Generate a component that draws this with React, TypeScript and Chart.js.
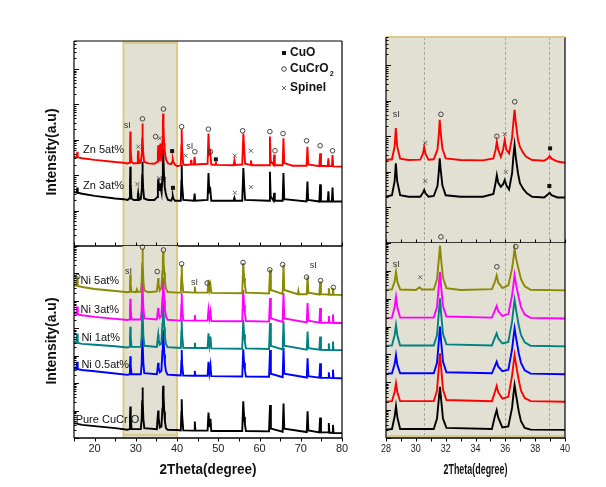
import React, { useEffect, useRef } from 'react';
import { Chart, registerables } from 'chart.js';
Chart.register(...registerables);

type Pt = [number, number];

// ---------- Series data: [2theta, intensity (a.u.)] ----------
const zn5: Pt[] = [[15, 330], [15.7, 320], [15.8, 460], [15.9, 320], [17, 300], [20, 270], [25, 235], [27, 225], [28.0, 215], [28.4, 225], [28.58, 520], [28.66, 1700], [28.75, 520], [28.95, 235], [29.5, 215], [30.3, 220], [30.48, 330], [30.56, 500], [30.65, 320], [30.85, 220], [31.2, 225], [31.45, 420], [31.54, 1100], [31.6, 2900], [31.67, 1200], [31.78, 450], [32.0, 240], [33, 215], [34.5, 210], [35.2, 240], [35.35, 420], [35.43, 700], [35.52, 420], [35.7, 265], [35.85, 420], [35.96, 780], [36.07, 420], [36.25, 330], [36.45, 900], [36.55, 2800], [36.62, 5500], [36.7, 2400], [36.85, 800], [36.98, 500], [37.2, 340], [37.4, 265], [37.8, 215], [38.6, 205], [38.85, 240], [38.97, 277], [39.1, 235], [39.5, 195], [40.0, 180], [40.9, 190], [41.05, 700], [41.12, 2000], [41.2, 600], [41.5, 200], [42, 195], [43.3, 200], [43.4, 270], [43.5, 200], [44.1, 200], [44.25, 330], [44.4, 200], [47.4, 210], [47.62, 1500], [47.8, 400], [48.05, 460], [48.3, 200], [49.3, 195], [49.4, 240], [49.5, 195], [53.7, 190], [53.9, 260], [54.1, 195], [55.8, 200], [56.08, 1500], [56.3, 500], [56.5, 210], [57.7, 195], [57.9, 260], [58.1, 190], [62.3, 190], [62.52, 1230], [62.7, 250], [63.4, 195], [63.55, 380], [63.7, 190], [65.6, 190], [65.8, 1100], [66.0, 220], [68, 185], [71.4, 185], [71.62, 630], [71.8, 200], [74.5, 180], [74.7, 415], [74.9, 185], [76.55, 180], [76.7, 300], [76.85, 180], [77.55, 180], [77.7, 370], [77.85, 178], [80, 175]];

const zn3: Pt[] = [[15, 34], [15.7, 32], [15.8, 45], [15.9, 32], [17, 30], [20, 26], [25, 22], [27, 21], [28.0, 20], [28.4, 22], [28.58, 55], [28.66, 174], [28.75, 55], [28.95, 22], [29.5, 20], [30.3, 20], [30.48, 26], [30.56, 31], [30.65, 25], [30.85, 20], [31.2, 21], [31.45, 40], [31.54, 100], [31.6, 240], [31.67, 110], [31.78, 42], [32.0, 22], [33, 20], [34.5, 20], [35.2, 24], [35.35, 50], [35.43, 81], [35.52, 50], [35.7, 38], [35.85, 45], [35.96, 59], [36.07, 42], [36.25, 32], [36.45, 90], [36.55, 300], [36.62, 565], [36.7, 260], [36.85, 90], [36.98, 48], [37.2, 33], [37.45, 25], [37.8, 20], [38.6, 19], [38.85, 23], [38.97, 26], [39.1, 22], [39.5, 19], [40, 19], [40.9, 19], [41.05, 70], [41.12, 195], [41.2, 60], [41.5, 20], [44.1, 19], [44.25, 30], [44.4, 19], [47.4, 20], [47.62, 115], [47.8, 35], [48.05, 40], [48.3, 19], [53.7, 19], [53.9, 23], [54.1, 19], [55.8, 19], [56.08, 160], [56.3, 45], [56.5, 20], [62.3, 19], [62.52, 125], [62.7, 25], [63.4, 19], [63.55, 32], [63.7, 19], [65.6, 19], [65.8, 115], [66.0, 21], [71.4, 18], [71.62, 66], [71.8, 20], [74.5, 18], [74.7, 55], [74.9, 18], [76.55, 18], [76.7, 35], [76.85, 18], [77.55, 18], [77.7, 45], [77.85, 18], [80, 18]];

const ni5: Pt[] = [[15, 380000], [15.6, 360000], [15.75, 780000], [15.9, 350000], [17, 320000], [20, 270000], [25, 230000], [28, 205000], [28.4, 215000], [28.58, 420000], [28.67, 930000], [28.76, 400000], [28.95, 215000], [30.0, 205000], [30.25, 260000], [30.4, 215000], [31.2, 215000], [31.42, 500000], [31.53, 2200000], [31.62, 8000000], [31.7, 2400000], [31.82, 560000], [32.05, 240000], [33, 205000], [35.1, 220000], [35.3, 400000], [35.42, 680000], [35.52, 390000], [35.8, 240000], [36.2, 300000], [36.45, 1200000], [36.55, 3000000], [36.62, 6200000], [36.72, 2800000], [36.9, 1070000], [37.05, 500000], [37.3, 280000], [37.7, 210000], [40, 200000], [40.9, 200000], [41.05, 800000], [41.12, 2050000], [41.22, 600000], [41.5, 210000], [44.15, 200000], [44.3, 330000], [44.45, 200000], [47.4, 200000], [47.62, 590000], [47.85, 250000], [48.1, 380000], [48.3, 195000], [55.8, 190000], [56.05, 2400000], [56.25, 700000], [56.45, 400000], [56.7, 200000], [62.3, 185000], [62.55, 1350000], [62.75, 250000], [65.6, 180000], [65.82, 2050000], [66.0, 250000], [69.3, 175000], [69.4, 220000], [69.5, 175000], [71.45, 175000], [71.65, 775000], [71.85, 200000], [74.5, 170000], [74.7, 510000], [74.9, 175000], [76.65, 170000], [76.8, 290000], [76.95, 168000], [77.65, 168000], [77.8, 300000], [77.95, 166000], [80, 165000]];

const ni3: Pt[] = [[15, 35500], [15.6, 33000], [15.75, 62000], [15.9, 32000], [17, 30000], [20, 26000], [25, 22000], [28, 20000], [28.4, 21000], [28.58, 50000], [28.67, 118000], [28.76, 48000], [28.95, 21000], [31.2, 21000], [31.42, 50000], [31.53, 250000], [31.62, 930000], [31.7, 260000], [31.82, 55000], [32.05, 23000], [35.1, 21000], [35.3, 38000], [35.42, 55000], [35.52, 36000], [35.8, 24000], [36.2, 28000], [36.45, 130000], [36.55, 350000], [36.62, 710000], [36.72, 320000], [36.9, 110000], [37.05, 50000], [37.3, 27000], [37.7, 20500], [40, 19500], [40.9, 19000], [41.05, 75000], [41.12, 190000], [41.22, 60000], [41.5, 19500], [44.15, 19000], [44.3, 30000], [44.45, 19000], [47.4, 19000], [47.62, 47000], [47.85, 24000], [48.1, 40000], [48.3, 18500], [55.8, 18000], [56.05, 250000], [56.25, 70000], [56.45, 35000], [56.7, 18500], [62.3, 17500], [62.55, 126000], [62.75, 23000], [65.6, 17000], [65.82, 190000], [66.0, 23000], [71.45, 16500], [71.65, 83000], [71.85, 19000], [74.5, 16000], [74.7, 55000], [74.9, 16000], [76.65, 16000], [76.8, 28000], [76.95, 15800], [77.65, 15800], [77.8, 32000], [77.95, 15600], [80, 15500]];

const ni1: Pt[] = [[15, 3200], [15.6, 3000], [15.75, 6300], [15.9, 2900], [17, 2700], [20, 2500], [25, 2200], [28, 2000], [28.4, 2100], [28.58, 5000], [28.67, 11400], [28.76, 4800], [28.95, 2100], [31.2, 2100], [31.42, 5000], [31.53, 27000], [31.62, 103000], [31.7, 28000], [31.82, 5500], [32.05, 2300], [35.1, 2100], [35.3, 4000], [35.42, 5700], [35.52, 3800], [35.8, 2500], [36.2, 2800], [36.45, 15000], [36.55, 45000], [36.62, 90000], [36.72, 40000], [36.9, 11000], [37.05, 5000], [37.3, 2700], [37.7, 2050], [40, 1950], [40.9, 1900], [41.05, 8000], [41.12, 20000], [41.22, 6000], [41.5, 1950], [44.15, 1900], [44.3, 3000], [44.45, 1900], [47.4, 1900], [47.62, 6600], [47.85, 2500], [48.1, 5000], [48.3, 1850], [55.8, 1800], [56.05, 20000], [56.25, 6000], [56.45, 3200], [56.7, 1850], [62.3, 1750], [62.55, 15500], [62.75, 2300], [65.6, 1700], [65.82, 17500], [66.0, 2300], [71.45, 1650], [71.65, 7600], [71.85, 1900], [74.5, 1650], [74.7, 5000], [74.9, 1650], [76.65, 1620], [76.8, 2800], [76.95, 1600], [77.65, 1600], [77.8, 3300], [77.95, 1600], [80, 1600]];

const ni05: Pt[] = [[15, 350], [15.6, 330], [15.75, 600], [15.9, 320], [17, 300], [20, 270], [25, 225], [28, 200], [28.4, 210], [28.58, 450], [28.67, 950], [28.76, 420], [28.95, 210], [31.2, 210], [31.42, 500], [31.53, 2600], [31.62, 10000], [31.7, 2800], [31.82, 550], [32.05, 230], [35.1, 210], [35.3, 380], [35.42, 550], [35.52, 370], [35.8, 250], [36.2, 280], [36.45, 1500], [36.55, 4400], [36.62, 8700], [36.72, 3900], [36.9, 1100], [37.05, 500], [37.3, 270], [37.7, 205], [40, 195], [40.9, 190], [41.05, 650], [41.12, 1600], [41.22, 500], [41.5, 190], [44.15, 185], [44.3, 280], [44.45, 185], [47.4, 185], [47.62, 600], [47.85, 240], [48.1, 450], [48.3, 180], [55.8, 175], [56.05, 1700], [56.25, 550], [56.45, 300], [56.7, 175], [62.3, 170], [62.55, 1600], [62.75, 220], [65.6, 165], [65.82, 1900], [66.0, 220], [71.45, 160], [71.65, 810], [71.85, 180], [74.5, 158], [74.7, 530], [74.9, 158], [76.65, 155], [76.8, 250], [76.95, 155], [77.65, 153], [77.8, 310], [77.95, 152], [80, 150]];

const redRef: Pt[] = [[27.5, 21], [28, 20], [28.4, 21], [28.58, 45], [28.67, 92], [28.76, 44], [28.95, 21], [31.2, 21], [31.42, 50], [31.53, 300], [31.62, 1100], [31.7, 320], [31.82, 55], [32.05, 23], [35.1, 21], [35.3, 45], [35.42, 74], [35.52, 44], [35.8, 26], [36.2, 30], [36.45, 170], [36.55, 480], [36.62, 950], [36.72, 430], [36.9, 120], [37.05, 50], [37.3, 27], [37.7, 21], [40, 20], [40.5, 20]];

const pure: Pt[] = [[15, 3.5], [17, 3.0], [20, 2.7], [25, 2.3], [28, 2.0], [28.4, 2.1], [28.58, 6], [28.67, 14], [28.76, 5.5], [28.95, 2.1], [31.2, 2.1], [31.42, 5], [31.53, 22], [31.62, 69], [31.7, 23], [31.82, 5], [32.05, 2.3], [35.1, 2.1], [35.3, 6], [35.42, 10], [35.52, 5.5], [35.8, 2.4], [36.2, 2.6], [36.45, 12], [36.55, 40], [36.62, 80], [36.72, 35], [36.9, 9], [37.05, 4], [37.3, 2.3], [37.7, 2.0], [40, 1.95], [40.9, 1.9], [41.05, 9], [41.12, 26], [41.22, 7], [41.5, 1.9], [44.15, 1.85], [44.3, 4], [44.45, 1.85], [47.4, 1.85], [47.62, 8.4], [47.85, 2.5], [48.1, 5], [48.3, 1.8], [55.8, 1.8], [56.05, 22], [56.25, 6], [56.45, 3.2], [56.7, 1.8], [62.3, 1.75], [62.55, 16], [62.75, 2.2], [65.6, 1.7], [65.82, 18], [66.0, 2.2], [71.45, 1.65], [71.65, 9.5], [71.85, 1.9], [74.5, 1.6], [74.7, 5.6], [74.9, 1.6], [76.65, 1.6], [76.8, 3.5], [76.95, 1.55], [77.65, 1.55], [77.8, 3], [77.95, 1.5], [80, 1.5]];

// ---------- Phase markers [2theta, intensity] ----------
const ltCuO: Pt[] = [[38.8, 480], [49.4, 280], [39.0, 44]];
const ltCuCrO2: Pt[] = [[31.6, 3900], [34.8, 1230], [36.7, 7400], [41.1, 2350], [44.3, 460], [47.6, 2000], [48.1, 460], [55.9, 1800], [62.5, 1700], [63.75, 490], [65.7, 1500], [71.4, 940], [74.7, 680], [77.7, 490]];
const ltSpinel: Pt[] = [[30.6, 640], [35.8, 1100], [42.1, 355], [54.0, 355], [57.9, 490], [30.4, 56], [35.7, 82], [54.0, 32], [57.9, 46]];
const ltSi: Pt[] = [[27.9, 2600], [43.1, 640]];

const lbCuCrO2: Pt[] = [[15.9, 770000], [31.6, 9100000], [35.2, 1170000], [36.7, 7200000], [41.1, 2240000], [47.3, 445000], [56.0, 2500000], [62.5, 1350000], [65.6, 2100000], [71.4, 730000], [74.8, 550000], [77.9, 310000]];
const lbSi: Pt[] = [[28.2, 1170000], [44.2, 480000], [73.0, 1900000]];

const rtCuO: Pt[] = [[39.0, 457], [38.95, 40]];
const rtCuCrO2: Pt[] = [[31.68, 4150], [35.43, 1000], [36.63, 9300]];
const rtSpinel: Pt[] = [[30.63, 655], [35.96, 1150], [30.63, 55], [36.03, 100]];
const rtSi: Pt[] = [[28.69, 4150]];

const rbCuCrO2: Pt[] = [[31.68, 16600000], [35.43, 1400000], [36.7, 7400000]];
const rbSpinel: Pt[] = [[30.3, 590000]];
const rbSi: Pt[] = [[28.69, 1700000]];

// reference lines in the zoomed panels (2theta)
const guideLines = [30.55, 35.95, 38.95];

// sample labels: [text, 2theta, intensity]
const topLabels: [string, number, number][] = [['Zn 5at%', 17.2, 515], ['Zn 3at%', 17.2, 49]];
const bottomLabels: [string, number, number][] = [['Ni 5at%', 16.6, 550000], ['Ni 3at%', 16.6, 47000], ['Ni 1at%', 16.8, 4600], ['Ni 0.5at%', 16.8, 460], ['Pure CuCr O', 15.4, 4.5]];

const wideTicks = [20, 30, 40, 50, 60, 70, 80];
const zoomTicks = [28, 30, 32, 34, 36, 38, 40];

// ---------- layout ----------
const W = 606, H = 487;
const FONT = "'Liberation Sans', Arial, sans-serif";
const BEIGE = '#e2dfd3';
const TAN = '#dccb86';

interface Panel {
  key: string;
  box: { l: number; r: number; t: number; b: number };
  xMin: number; xMax: number; yMax: number;
  xStep: number; tickDir: number; labels: number[];
  series: { data: Pt[]; color: string }[];
  shade?: [number, number];
  bg?: boolean;
  guides?: number[];
  cuo?: Pt[]; cucro2?: Pt[]; spinel?: Pt[]; si?: Pt[];
  sampleLabels?: [string, number, number][];
  legend?: boolean;
  yTitle?: number; xTitle?: number; tickMaxW?: number;
  top?: 'black' | 'tan'; bottomTan?: boolean;
}

const PANELS: Panel[] = [
  {
    key: 'lt', box: { l: 74, r: 342, t: 41, b: 246 }, xMin: 15, xMax: 80, yMax: 6.17e5,
    xStep: 5, tickDir: -1, labels: [],
    series: [{ data: zn5, color: '#ff0000' }, { data: zn3, color: '#000000' }],
    shade: [27, 40], cuo: ltCuO, cucro2: ltCuCrO2, spinel: ltSpinel, si: ltSi,
    sampleLabels: topLabels, legend: true, yTitle: 152, top: 'black',
  },
  {
    key: 'lb', box: { l: 74, r: 342, t: 246, b: 438 }, xMin: 15, xMax: 80, yMax: 1e7,
    xStep: 5, tickDir: 1, labels: wideTicks,
    series: [{ data: ni5, color: '#8a8a00' }, { data: ni3, color: '#ff00ff' }, { data: ni1, color: '#008080' }, { data: ni05, color: '#0000ff' }, { data: pure, color: '#000000' }],
    shade: [27, 40], cucro2: lbCuCrO2, si: lbSi, sampleLabels: bottomLabels,
    yTitle: 341, xTitle: 97,
  },
  {
    key: 'rt', box: { l: 386, r: 565, t: 37, b: 243 }, xMin: 28, xMax: 40, yMax: 6.17e5,
    xStep: 1, tickDir: -1, labels: [],
    series: [{ data: zn5, color: '#ff0000' }, { data: zn3, color: '#000000' }],
    bg: true, guides: guideLines, cuo: rtCuO, cucro2: rtCuCrO2, spinel: rtSpinel, si: rtSi, top: 'tan',
  },
  {
    key: 'rb', box: { l: 386, r: 565, t: 243, b: 438 }, xMin: 28, xMax: 40, yMax: 1e7,
    xStep: 1, tickDir: 1, labels: zoomTicks,
    series: [{ data: ni5, color: '#8a8a00' }, { data: ni3, color: '#ff00ff' }, { data: ni1, color: '#008080' }, { data: ni05, color: '#0000ff' }, { data: redRef, color: '#ff0000' }, { data: pure, color: '#000000' }],
    bg: true, guides: guideLines, cucro2: rbCuCrO2, spinel: rbSpinel, si: rbSi,
    xTitle: 64, tickMaxW: 10, bottomTan: true,
  },
];

function drawMarker(ctx: CanvasRenderingContext2D, kind: string, px: number, py: number) {
  ctx.save();
  if (kind === 'cuo') {
    ctx.fillStyle = '#111';
    ctx.fillRect(px - 2, py - 2, 4, 4);
  } else if (kind === 'cucro2') {
    ctx.strokeStyle = '#333';
    ctx.lineWidth = 0.9;
    ctx.beginPath();
    ctx.arc(px, py, 2.3, 0, Math.PI * 2);
    ctx.stroke();
  } else {
    ctx.strokeStyle = '#555';
    ctx.lineWidth = 0.9;
    ctx.beginPath();
    ctx.moveTo(px - 2, py - 2); ctx.lineTo(px + 2, py + 2);
    ctx.moveTo(px + 2, py - 2); ctx.lineTo(px - 2, py + 2);
    ctx.stroke();
  }
  ctx.restore();
}

function makePlugin(p: Panel) {
  return {
    id: 'panel_' + p.key,
    beforeDatasetsDraw(chart: any) {
      const { ctx, chartArea: a, scales } = chart;
      const x = scales.x;
      ctx.save();
      if (p.bg) {
        ctx.fillStyle = BEIGE;
        ctx.fillRect(a.left, a.top, a.right - a.left, a.bottom - a.top);
      }
      if (p.shade) {
        const x0 = x.getPixelForValue(p.shade[0]);
        const x1 = x.getPixelForValue(p.shade[1]);
        ctx.fillStyle = BEIGE;
        ctx.fillRect(x0, a.top, x1 - x0, a.bottom - a.top);
        ctx.strokeStyle = TAN;
        ctx.lineWidth = 2;
        ctx.beginPath();
        ctx.moveTo(x0, a.top); ctx.lineTo(x0, a.bottom);
        ctx.moveTo(x1, a.top); ctx.lineTo(x1, a.bottom);
        if (p.top) { ctx.moveTo(x0, a.top + 2); ctx.lineTo(x1, a.top + 2); }
        else { ctx.moveTo(x0, a.bottom - 3); ctx.lineTo(x1, a.bottom - 3); }
        ctx.stroke();
      }
      if (p.guides) {
        ctx.strokeStyle = '#aaa79e';
        ctx.lineWidth = 1;
        ctx.setLineDash([3, 2]);
        for (const g of p.guides) {
          const gx = Math.round(x.getPixelForValue(g)) + 0.5;
          ctx.beginPath(); ctx.moveTo(gx, a.top); ctx.lineTo(gx, a.bottom); ctx.stroke();
        }
        ctx.setLineDash([]);
      }
      ctx.restore();
    },
    afterDatasetsDraw(chart: any) {
      const { ctx, chartArea: a, scales } = chart;
      const x = scales.x, y = scales.y;
      ctx.save();
      // frame
      ctx.strokeStyle = '#000';
      ctx.lineWidth = 1.2;
      ctx.beginPath();
      ctx.moveTo(a.left, a.top); ctx.lineTo(a.left, a.bottom);
      ctx.moveTo(a.right, a.top); ctx.lineTo(a.right, a.bottom);
      ctx.stroke();
      ctx.lineWidth = 1.6;
      ctx.beginPath();
      ctx.moveTo(a.left, a.bottom); ctx.lineTo(a.right, a.bottom);
      ctx.stroke();
      if (p.top === 'black') {
        ctx.lineWidth = 1.2;
        ctx.beginPath(); ctx.moveTo(a.left, a.top); ctx.lineTo(a.right, a.top); ctx.stroke();
      } else if (p.top === 'tan') {
        ctx.strokeStyle = TAN; ctx.lineWidth = 2;
        ctx.beginPath(); ctx.moveTo(a.left, a.top); ctx.lineTo(a.right, a.top); ctx.stroke();
      }
      if (p.bottomTan) {
        ctx.strokeStyle = TAN; ctx.lineWidth = 2;
        ctx.beginPath(); ctx.moveTo(a.left + 1, a.bottom - 2); ctx.lineTo(a.right - 1, a.bottom - 2); ctx.stroke();
      }
      // y log ticks (inward)
      ctx.strokeStyle = '#000';
      ctx.lineWidth = 1;
      ctx.beginPath();
      for (let k = 0; k <= 7; k++) {
        for (let m = 1; m <= 9; m++) {
          const v = m * Math.pow(10, k);
          if (v < 1 || v > p.yMax) continue;
          const py = Math.round(y.getPixelForValue(v)) + 0.5;
          const len = m === 1 ? 5 : 2.5;
          ctx.moveTo(a.left, py); ctx.lineTo(a.left + len, py);
        }
      }
      ctx.stroke();
      // x ticks
      ctx.beginPath();
      for (let v = p.xMin; v <= p.xMax + 1e-9; v += p.xStep) {
        const px = Math.round(x.getPixelForValue(v)) + 0.5;
        ctx.moveTo(px, a.bottom); ctx.lineTo(px, a.bottom + p.tickDir * 3.5);
      }
      ctx.stroke();
      // tick labels
      ctx.fillStyle = '#222';
      ctx.font = `11px ${FONT}`;
      ctx.textAlign = 'center';
      ctx.textBaseline = 'middle';
      for (const v of p.labels) {
        const px = x.getPixelForValue(v);
        if (p.tickMaxW) ctx.fillText(String(v), px, a.bottom + 11, p.tickMaxW);
        else ctx.fillText(String(v), px, a.bottom + 11);
      }
      // titles
      ctx.fillStyle = '#111';
      if (p.xTitle) {
        ctx.font = `bold 14px ${FONT}`;
        ctx.fillText('2Theta(degree)', (a.left + a.right) / 2, a.bottom + 32, p.xTitle);
      }
      if (p.yTitle) {
        ctx.save();
        ctx.translate(52, p.yTitle);
        ctx.rotate(-Math.PI / 2);
        ctx.font = `bold 14px ${FONT}`;
        ctx.fillText('Intensity(a.u)', 0, 0, 90);
        ctx.restore();
      }
      // phase markers
      const mk = (arr: Pt[] | undefined, kind: string) => {
        if (!arr) return;
        for (const [vx, vy] of arr) drawMarker(ctx, kind, x.getPixelForValue(vx), y.getPixelForValue(vy));
      };
      mk(p.cuo, 'cuo'); mk(p.cucro2, 'cucro2'); mk(p.spinel, 'spinel');
      if (p.si) {
        ctx.fillStyle = '#333';
        ctx.font = `9px ${FONT}`;
        ctx.textAlign = 'center';
        for (const [vx, vy] of p.si) ctx.fillText('sI', x.getPixelForValue(vx), y.getPixelForValue(vy));
      }
      // sample labels
      if (p.sampleLabels) {
        ctx.fillStyle = '#111';
        ctx.font = `11px ${FONT}`;
        ctx.textAlign = 'left';
        for (const [t, vx, vy] of p.sampleLabels) ctx.fillText(t, x.getPixelForValue(vx), y.getPixelForValue(vy));
      }
      // legend
      if (p.legend) {
        const mx = a.right - 58, tx = a.right - 52;
        const rows: [string, string, number][] = [['cuo', 'CuO', a.top + 12], ['cucro2', 'CuCrO', a.top + 28], ['spinel', 'Spinel', a.top + 47]];
        ctx.textAlign = 'left';
        ctx.fillStyle = '#111';
        for (const [kind, label, ry] of rows) {
          drawMarker(ctx, kind, mx, ry);
          ctx.font = `bold 12px ${FONT}`;
          ctx.fillText(label, tx, ry);
          if (kind === 'cucro2') {
            const w = ctx.measureText(label).width;
            ctx.font = `bold 7px ${FONT}`;
            ctx.fillText('2', tx + w + 1, ry + 5);
          }
        }
      }
      ctx.restore();
    },
  };
}

function buildConfig(p: Panel): any {
  return {
    type: 'line',
    data: {
      datasets: p.series.map((s) => ({
        data: s.data.map(([vx, vy]) => ({ x: vx, y: vy })),
        borderColor: s.color,
        backgroundColor: s.color,
        borderWidth: 1.9,
        pointRadius: 0,
        tension: 0,
        fill: false,
      })),
    },
    options: {
      responsive: false,
      animation: false,
      devicePixelRatio: 1,
      events: [],
      layout: { padding: { left: p.box.l, right: W - p.box.r, top: p.box.t, bottom: H - p.box.b } },
      scales: {
        x: { type: 'linear', min: p.xMin, max: p.xMax, display: false },
        y: { type: 'logarithmic', min: 1, max: p.yMax, display: false },
      },
      plugins: { legend: { display: false }, tooltip: { enabled: false } },
    },
    plugins: [makePlugin(p)],
  };
}

export default function App() {
  const refs = useRef<(HTMLCanvasElement | null)[]>([]);
  useEffect(() => {
    const charts = PANELS.map((p, i) => new Chart(refs.current[i] as HTMLCanvasElement, buildConfig(p)));
    return () => charts.forEach((c) => c.destroy());
  }, []);
  return (
    <div style={{ position: 'fixed', left: 0, top: 0, width: W, height: H, background: '#fff' }}>
      {PANELS.map((p, i) => (
        <canvas
          key={p.key}
          ref={(el) => { refs.current[i] = el; }}
          width={W}
          height={H}
          style={{ position: 'absolute', left: 0, top: 0, width: W, height: H }}
        />
      ))}
    </div>
  );
}
